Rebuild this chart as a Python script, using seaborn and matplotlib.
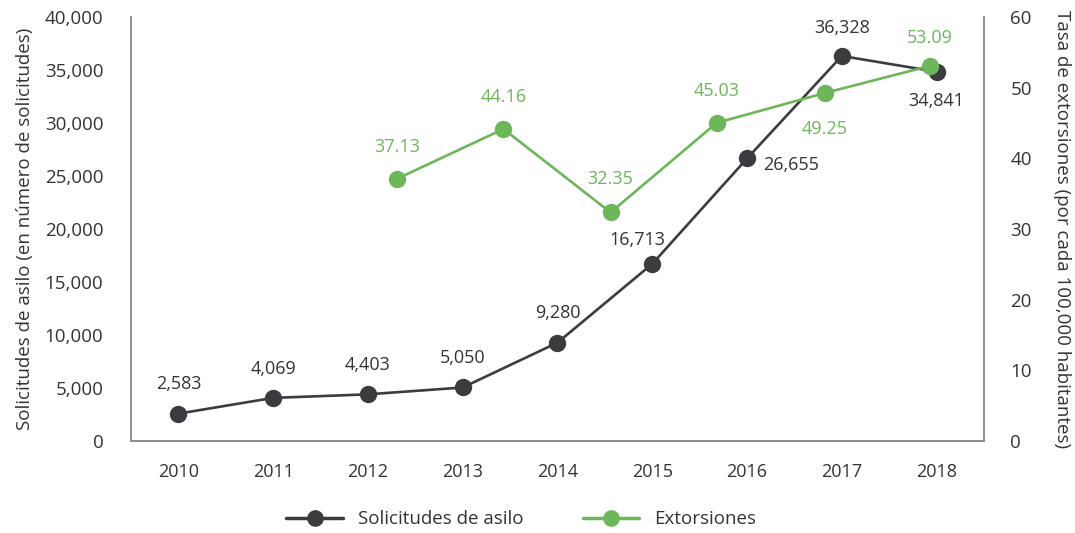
import numpy as np
import pandas as pd
import matplotlib
matplotlib.use('Agg')
import matplotlib.pyplot as plt
import seaborn as sns
from matplotlib.lines import Line2D

sns.set_theme(style='white')
plt.rcParams['font.family'] = ['Open Sans', 'DejaVu Sans']

years = ['2010', '2011', '2012', '2013', '2014', '2015', '2016', '2017', '2018']
solicitudes = [2583, 4069, 4403, 5050, 9280, 16713, 26655, 36328, 34841]
# extortion points sit off the year centres in the original chart
extorsiones_pos = [2.31, 3.43, 4.56, 5.68, 6.82, 7.93]
extorsiones = [37.13, 44.16, 32.35, 45.03, 49.25, 53.09]

sol_offsets = [(0, 21), (0, 21), (0, 21), (0, 21), (0, 21), (-11, 17), (32, -5), (0, 20), (0, -21)]
ext_offsets = [(0, 23), (0, 23), (0, 24), (0, 23), (0, -26), (0, 20)]

dark = '#3a3c3f'
green = '#6db65a'
grey = '#8c8c8c'
text_col = '#333333'

df_sol = pd.DataFrame({'pos': np.arange(len(years)), 'val': solicitudes})
df_ext = pd.DataFrame({'pos': extorsiones_pos, 'val': extorsiones})

fig = plt.figure(figsize=(10.75, 5.33), dpi=100)
ax = fig.add_axes([0.1219, 0.1726, 0.7934, 0.7954])
ax2 = ax.twinx()

sns.lineplot(data=df_sol, x='pos', y='val', ax=ax, color=dark, linewidth=1.9,
             marker='o', markersize=12.5, markeredgewidth=0, zorder=3)
sns.lineplot(data=df_ext, x='pos', y='val', ax=ax2, color=green, linewidth=1.9,
             marker='o', markersize=12.5, markeredgewidth=0, zorder=3)

for x, y, off in zip(df_sol['pos'], solicitudes, sol_offsets):
    ax.annotate(f'{y:,}', (x, y), xytext=off, textcoords='offset points',
                ha='center', va='center', fontsize=13, color=text_col)
for x, y, off in zip(extorsiones_pos, extorsiones, ext_offsets):
    ax2.annotate(f'{y:.2f}', (x, y), xytext=off, textcoords='offset points',
                 ha='center', va='center', fontsize=13, color=green)

ax.set_xlim(-0.5, len(years) - 0.5)
ax.set_ylim(0, 40000)
ax2.set_ylim(0, 60)
ax.set_yticks(np.arange(0, 40001, 5000))
ax.set_yticklabels([f'{v:,}' for v in range(0, 40001, 5000)])
ax2.set_yticks(np.arange(0, 61, 10))

ax.set_xticks(np.arange(len(years)))
ax.set_xticklabels(years)
ax.set_xticks(np.arange(0.5, len(years) - 1, 1), minor=True)
ax.tick_params(axis='x', which='major', length=0, pad=16, labelsize=13, labelcolor=text_col)
ax.tick_params(axis='x', which='minor', direction='in', length=10, width=1, color=grey)
ax.tick_params(axis='y', length=0, pad=20, labelsize=13.5, labelcolor=text_col)
ax2.tick_params(axis='y', length=0, pad=19, labelsize=13.5, labelcolor=text_col)

for a in (ax, ax2):
    a.set_xlabel('')
    a.spines['top'].set_visible(False)
    for s in ('left', 'right', 'bottom'):
        a.spines[s].set_color(grey)
        a.spines[s].set_linewidth(1.2)

ax.set_ylabel('Solicitudes de asilo (en número de solicitudes)', fontsize=13.5, color=text_col, labelpad=8)
ax2.set_ylabel('Tasa de extorsiones (por cada 100,000 habitantes)', fontsize=13.5, color=text_col,
               rotation=270, labelpad=28)

handles = [Line2D([], [], color=dark, linewidth=2.5, marker='o', markersize=11),
           Line2D([], [], color=green, linewidth=2.5, marker='o', markersize=11)]
fig.legend(handles, ['Solicitudes de asilo', 'Extorsiones'], loc='center', bbox_to_anchor=(0.485, 0.026),
           ncol=2, frameon=False, fontsize=13.5, handlelength=3.0, columnspacing=3.2,
           labelcolor=text_col)

fig.savefig('out.png', dpi=100)
